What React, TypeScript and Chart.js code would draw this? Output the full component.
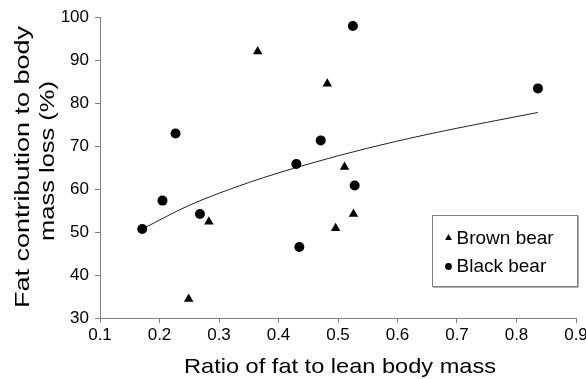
import React, { useEffect, useRef } from "react";
import { Chart, registerables } from "chart.js";

Chart.register(...registerables);

// ---- data ----
const brownX = [0.249, 0.283, 0.365, 0.482, 0.496, 0.511, 0.526];
const brownY = [34.4, 52.4, 92.0, 84.5, 50.9, 65.1, 54.2];
const blackX = [0.171, 0.205, 0.227, 0.268, 0.43, 0.435, 0.471, 0.525, 0.528, 0.836];
const blackY = [50.7, 57.3, 72.9, 54.2, 65.8, 46.5, 71.3, 97.9, 60.8, 83.4];
const trendX = [0.171, 0.25, 0.35, 0.45, 0.55, 0.65, 0.75, 0.836];
const trendY = [50.7, 56.2, 61.5, 65.8, 69.5, 72.7, 75.5, 77.8];

const seriesNames = ["Brown bear", "Black bear"];
const xTitle = "Ratio of fat to lean body mass";
const yTitleLines = ["Fat contribution to body", "mass loss (%)"];
const xMin = 0.1, xMax = 0.9, xStep = 0.1;
const yMin = 30, yMax = 100, yStep = 10;

const FONT = '"Liberation Sans", Arial, Helvetica, sans-serif';
const AXIS = "#808080";

function stretchedText(ctx: CanvasRenderingContext2D, text: string, target: number) {
  const w = ctx.measureText(text).width;
  ctx.scale(target / w, 1);
  ctx.fillText(text, 0, 0);
}

const decorPlugin = {
  id: "decor",
  afterDraw(chart: any) {
    const ctx: CanvasRenderingContext2D = chart.ctx;
    ctx.save();
    ctx.fillStyle = "#000";
    ctx.textAlign = "center";
    ctx.textBaseline = "alphabetic";
    ctx.font = `21px ${FONT}`;

    // x title
    ctx.save();
    ctx.translate(340, 373);
    stretchedText(ctx, xTitle, 312);
    ctx.restore();

    // y title (two rotated lines)
    const yLines = [
      { x: 28.5, y: 167, len: 282 },
      { x: 53.5, y: 161, len: 160 },
    ];
    yTitleLines.forEach((t, i) => {
      const p = yLines[i];
      ctx.save();
      ctx.translate(p.x, p.y);
      ctx.rotate(-Math.PI / 2);
      stretchedText(ctx, t, p.len);
      ctx.restore();
    });

    // legend box
    ctx.strokeStyle = AXIS;
    ctx.lineWidth = 1;
    ctx.strokeRect(432.5, 215.5, 145, 71);
    ctx.strokeStyle = "#b0b0b0";
    ctx.beginPath();
    ctx.moveTo(578.5, 216);
    ctx.lineTo(578.5, 287.5);
    ctx.lineTo(433, 287.5);
    ctx.stroke();

    // legend markers
    ctx.fillStyle = "#000";
    const tx = 448.5, ty = 238;
    const r = 4;
    ctx.beginPath();
    ctx.moveTo(tx, ty - r);
    ctx.lineTo(tx + r * 0.866, ty + r * 0.5);
    ctx.lineTo(tx - r * 0.866, ty + r * 0.5);
    ctx.closePath();
    ctx.fill();
    ctx.beginPath();
    ctx.arc(448.5, 266.5, 3.4, 0, Math.PI * 2);
    ctx.fill();

    // legend labels
    ctx.font = `19px ${FONT}`;
    ctx.textAlign = "left";
    ctx.textBaseline = "middle";
    ctx.fillText(seriesNames[0], 456.5, 238.5);
    ctx.fillText(seriesNames[1], 456.5, 266.5);
    ctx.restore();
  },
};

export default function App() {
  const ref = useRef<HTMLCanvasElement | null>(null);

  useEffect(() => {
    document.body.style.margin = "0";
    if (!ref.current) return;
    const toPts = (xs: number[], ys: number[]) => xs.map((x, i) => ({ x, y: ys[i] }));
    const chart = new Chart(ref.current, {
      type: "scatter",
      data: {
        datasets: [
          {
            label: "Trend",
            data: toPts(trendX, trendY),
            showLine: true,
            borderColor: "#222",
            borderWidth: 1,
            pointRadius: 0,
            cubicInterpolationMode: "monotone",
            order: 3,
          } as any,
          {
            label: seriesNames[0],
            data: toPts(brownX, brownY),
            pointStyle: "triangle",
            pointRadius: 5.5,
            backgroundColor: "#000",
            borderColor: "#000",
            borderWidth: 0,
            order: 1,
          },
          {
            label: seriesNames[1],
            data: toPts(blackX, blackY),
            pointStyle: "circle",
            pointRadius: 5,
            backgroundColor: "#000",
            borderColor: "#000",
            borderWidth: 0,
            order: 2,
          },
        ],
      },
      options: {
        animation: false,
        responsive: false,
        devicePixelRatio: 1,
        layout: { padding: { top: 17, right: 10, left: 0, bottom: 0 } },
        plugins: { legend: { display: false }, tooltip: { enabled: false } },
        scales: {
          x: {
            type: "linear",
            min: xMin,
            max: xMax,
            border: { display: true, color: AXIS, width: 1 },
            grid: { display: true, drawOnChartArea: false, drawTicks: true, tickLength: 5, color: AXIS },
            ticks: {
              stepSize: xStep,
              color: "#000",
              padding: 2,
              font: { family: FONT, size: 17 },
              maxRotation: 0,
              callback: (v: any) => Number(v).toFixed(1),
            },
            afterFit: (s: any) => {
              s.height = 61;
              s.paddingLeft = 0;
              s.paddingRight = 0;
            },
          },
          y: {
            type: "linear",
            min: yMin,
            max: yMax,
            border: { display: true, color: AXIS, width: 1 },
            grid: { display: true, drawOnChartArea: false, drawTicks: true, tickLength: 5, color: AXIS },
            ticks: {
              stepSize: yStep,
              color: "#000",
              padding: 6,
              font: { family: FONT, size: 17 },
            },
            afterFit: (s: any) => {
              s.width = 100;
              s.paddingTop = 0;
              s.paddingBottom = 0;
            },
          },
        },
      },
      plugins: [decorPlugin],
    });
    return () => chart.destroy();
  }, []);

  return <canvas ref={ref} width={586} height={379} style={{ display: "block" }} />;
}
